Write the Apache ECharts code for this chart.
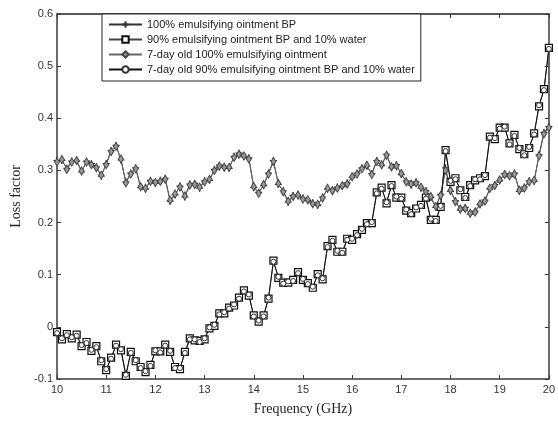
<!DOCTYPE html>
<html>
<head>
<meta charset="utf-8">
<script src="https://cdn.jsdelivr.net/npm/echarts@6/dist/echarts.min.js"></script>
<style>
html,body{margin:0;padding:0;background:#fff;}
#c{width:558px;height:421px;}
</style>
</head>
<body>
<div id="c"></div>
<script>
const freq = [10.0,10.1,10.2,10.3,10.4,10.5,10.6,10.7,10.8,10.9,
11.0,11.1,11.2,11.3,11.4,11.5,11.6,11.7,11.8,11.9,
12.0,12.1,12.2,12.3,12.4,12.5,12.6,12.7,12.8,12.9,
13.0,13.1,13.2,13.3,13.4,13.5,13.6,13.7,13.8,13.9,
14.0,14.1,14.2,14.3,14.4,14.5,14.6,14.7,14.8,14.9,
15.0,15.1,15.2,15.3,15.4,15.5,15.6,15.7,15.8,15.9,
16.0,16.1,16.2,16.3,16.4,16.5,16.6,16.7,16.8,16.9,
17.0,17.1,17.2,17.3,17.4,17.5,17.6,17.7,17.8,17.9,
18.0,18.1,18.2,18.3,18.4,18.5,18.6,18.7,18.8,18.9,
19.0,19.1,19.2,19.3,19.4,19.5,19.6,19.7,19.8,19.9,20.0];

const ointment100 = [0.319,0.319,0.304,0.318,0.318,0.297,0.318,0.313,0.307,0.289,
0.313,0.338,0.348,0.320,0.278,0.295,0.305,0.267,0.264,0.281,
0.275,0.281,0.285,0.241,0.253,0.270,0.249,0.274,0.275,0.266,
0.280,0.281,0.302,0.310,0.308,0.304,0.327,0.333,0.326,0.324,
0.267,0.258,0.271,0.295,0.319,0.273,0.261,0.239,0.252,0.251,
0.247,0.242,0.238,0.233,0.249,0.264,0.263,0.268,0.269,0.276,
0.286,0.295,0.305,0.308,0.294,0.319,0.309,0.331,0.305,0.311,
0.292,0.280,0.272,0.278,0.266,0.261,0.248,0.229,0.254,0.305,
0.260,0.242,0.224,0.229,0.216,0.222,0.234,0.243,0.264,0.273,
0.280,0.294,0.288,0.295,0.260,0.268,0.280,0.279,0.330,0.373,0.384];

const ointment90water = [-0.010,-0.024,-0.014,-0.022,-0.015,-0.037,-0.029,-0.046,-0.037,-0.066,
-0.083,-0.059,-0.034,-0.045,-0.094,-0.048,-0.066,-0.077,-0.087,-0.073,
-0.047,-0.047,-0.034,-0.048,-0.077,-0.081,-0.048,-0.022,-0.026,-0.027,
-0.024,-0.003,0.002,0.026,0.026,0.037,0.041,0.056,0.070,0.060,
0.022,0.010,0.022,0.054,0.127,0.094,0.085,0.085,0.090,0.105,
0.090,0.084,0.075,0.101,0.091,0.155,0.167,0.144,0.144,0.169,
0.167,0.178,0.186,0.199,0.199,0.258,0.267,0.237,0.272,0.248,
0.248,0.223,0.218,0.227,0.234,0.248,0.205,0.205,0.230,0.339,
0.278,0.285,0.262,0.249,0.272,0.281,0.285,0.289,0.365,0.360,
0.382,0.382,0.352,0.368,0.341,0.331,0.343,0.371,0.423,0.456,0.535];

const old100 = [0.316,0.321,0.302,0.316,0.319,0.299,0.316,0.311,0.305,0.291,
0.311,0.336,0.346,0.322,0.276,0.293,0.303,0.269,0.266,0.279,
0.277,0.279,0.283,0.243,0.255,0.268,0.251,0.272,0.273,0.268,
0.278,0.283,0.300,0.308,0.306,0.306,0.325,0.331,0.328,0.322,
0.269,0.256,0.273,0.293,0.317,0.275,0.259,0.241,0.250,0.253,
0.245,0.244,0.236,0.235,0.247,0.266,0.261,0.266,0.271,0.274,
0.288,0.293,0.303,0.310,0.292,0.317,0.311,0.329,0.307,0.309,
0.294,0.278,0.274,0.276,0.268,0.259,0.250,0.231,0.252,0.300,
0.262,0.240,0.226,0.227,0.218,0.220,0.236,0.241,0.266,0.271,
0.282,0.292,0.290,0.293,0.262,0.266,0.278,0.281,0.328,0.370,0.382];

const old90water = [-0.012,-0.022,-0.016,-0.020,-0.017,-0.035,-0.031,-0.044,-0.039,-0.064,
-0.081,-0.061,-0.036,-0.043,-0.092,-0.050,-0.064,-0.079,-0.085,-0.075,
-0.045,-0.049,-0.036,-0.046,-0.079,-0.079,-0.050,-0.024,-0.024,-0.029,
-0.022,-0.001,0.004,0.024,0.028,0.035,0.043,0.054,0.068,0.062,
0.020,0.012,0.020,0.056,0.125,0.096,0.083,0.087,0.088,0.103,
0.092,0.082,0.077,0.099,0.093,0.153,0.165,0.146,0.142,0.167,
0.169,0.176,0.188,0.197,0.201,0.256,0.265,0.239,0.270,0.250,
0.246,0.225,0.216,0.229,0.232,0.246,0.207,0.203,0.232,0.337,
0.280,0.283,0.264,0.247,0.270,0.283,0.283,0.291,0.363,0.362,
0.380,0.384,0.350,0.366,0.343,0.329,0.345,0.369,0.425,0.454,0.533];

const seriesNames = ['100% emulsifying ointment BP',
  '90% emulsifying ointment BP and 10% water',
  '7-day old 100% emulsifying ointment',
  '7-day old 90% emulsifying ointment BP and 10% water'];
const yTicks = [-0.1,0,0.1,0.2,0.3,0.4,0.5,0.6];
const xTicks = [10,11,12,13,14,15,16,17,18,19,20];

function pairs(vals){ return freq.map((f,i)=>[f, vals[i]]); }

const chart = echarts.init(document.getElementById('c'), null, {renderer:'canvas'});
const axisColor = '#3a3a3a';
const tickLabel = {color:'#333', fontFamily:'Liberation Sans, Arial, sans-serif', fontSize:11};
const plusPath = 'path://M0,5L10,5M5,0L5,10';

chart.setOption({
  animation:false,
  backgroundColor:'#fff',
  grid:{left:57, right:3, top:14, bottom:37},
  legend:{
    orient:'vertical', left:102, top:14,
    itemWidth:33, itemHeight:8, itemGap:2,
    padding:[4,6,5,6],
    borderColor:'#222', borderWidth:1,
    backgroundColor:'#fff',
    textStyle:{color:'#222', fontFamily:'Liberation Sans, Arial, sans-serif', fontSize:11, lineHeight:13},
    data:seriesNames
  },
  xAxis:[{
    type:'value', min:10, max:20, interval:1, position:'bottom',
    name:'Frequency (GHz)', nameLocation:'middle', nameGap:23,
    nameTextStyle:{fontFamily:'Liberation Serif, Times New Roman, serif', fontSize:14, color:'#222'},
    axisLine:{onZero:false, lineStyle:{color:axisColor, width:1.5}},
    axisTick:{inside:true, length:4, lineStyle:{color:axisColor}},
    axisLabel:Object.assign({margin:5}, tickLabel),
    splitLine:{show:false}
  },{
    type:'value', min:10, max:20, interval:1, position:'top',
    axisLine:{onZero:false, lineStyle:{color:'#222', width:1.5}},
    axisTick:{inside:true, length:4, lineStyle:{color:axisColor}},
    axisLabel:{show:false}, splitLine:{show:false}
  }],
  yAxis:[{
    type:'value', min:-0.1, max:0.6, interval:0.1, position:'left',
    name:'Loss factor', nameLocation:'middle', nameGap:32, nameRotate:90,
    nameTextStyle:{fontFamily:'Liberation Serif, Times New Roman, serif', fontSize:14, color:'#222'},
    axisLine:{show:true, onZero:false, lineStyle:{color:axisColor, width:1.5}},
    axisTick:{show:true, inside:true, length:4, lineStyle:{color:axisColor}},
    axisLabel:Object.assign({margin:4, formatter:v=>String(+v.toFixed(1))}, tickLabel),
    splitLine:{show:false}
  },{
    type:'value', min:-0.1, max:0.6, interval:0.1, position:'right',
    axisLine:{show:true, onZero:false, lineStyle:{color:axisColor, width:1.5}},
    axisTick:{show:true, inside:true, length:4, lineStyle:{color:axisColor}},
    axisLabel:{show:false}, splitLine:{show:false}
  }],
  series:[{
    name:seriesNames[0], type:'line', data:pairs(ointment100),
    showAllSymbol:true, symbol:plusPath, symbolSize:7,
    lineStyle:{color:'#333', width:1},
    itemStyle:{color:'#333', borderColor:'#333', borderWidth:1.2}
  },{
    name:seriesNames[1], type:'line', data:pairs(ointment90water),
    showAllSymbol:true, symbol:'rect', symbolSize:7,
    lineStyle:{color:'#444', width:1},
    itemStyle:{color:'#fff', borderColor:'#111', borderWidth:1.2}
  },{
    name:seriesNames[2], type:'line', data:pairs(old100),
    showAllSymbol:true, symbol:'diamond', symbolSize:[5,8],
    lineStyle:{color:'#666', width:1},
    itemStyle:{color:'#999', borderColor:'#444', borderWidth:1}
  },{
    name:seriesNames[3], type:'line', data:pairs(old90water),
    showAllSymbol:true, symbol:'circle', symbolSize:5,
    lineStyle:{color:'#111', width:1},
    itemStyle:{color:'#fff', borderColor:'#333', borderWidth:1}
  }]
});
</script>
</body>
</html>
